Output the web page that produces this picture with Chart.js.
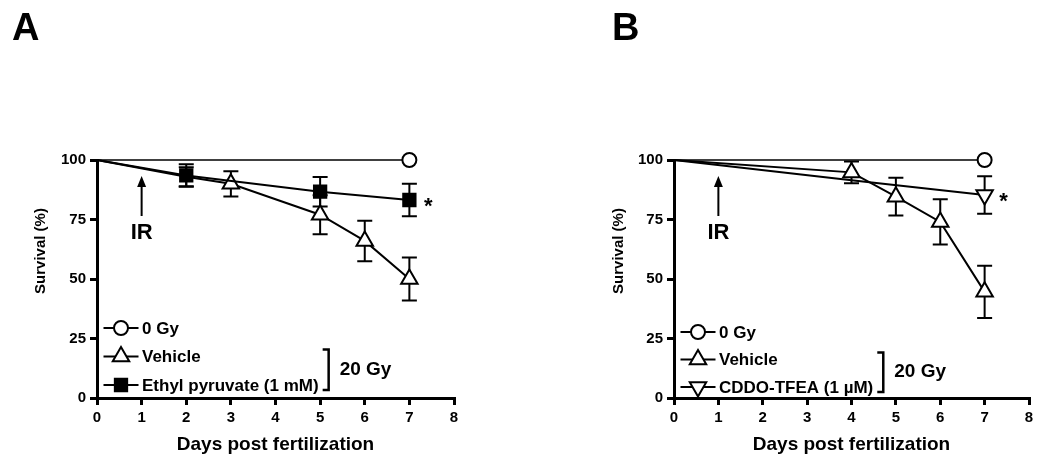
<!DOCTYPE html>
<html>
<head>
<meta charset="utf-8">
<script src="https://cdn.jsdelivr.net/npm/chart.js@4.4.1/dist/chart.umd.min.js"></script>
<style>
  html, body { margin: 0; padding: 0; background: #fff; }
  #wrap { position: relative; width: 1050px; height: 464px; }
  .panel { position: absolute; top: 0; width: 525px; height: 464px; }
  #panelA { left: 0; }
  #panelB { left: 525px; }
</style>
</head>
<body>
<div id="wrap">
  <div class="panel" id="panelA"><canvas id="chartA"></canvas></div>
  <div class="panel" id="panelB"><canvas id="chartB"></canvas></div>
</div>
<script>
// =============================
// DATA
// =============================
const xTicks = [0, 1, 2, 3, 4, 5, 6, 7, 8];
const yTicks = [0, 25, 50, 75, 100];
const irDay = 1;

// panel A
const labelsA = ["0 Gy", "Vehicle", "Ethyl pyruvate (1 mM)"];
const daysA_0gy = [0, 7];
const survA_0gy = [100, 100];
const daysA_veh = [0, 2, 3, 5, 6, 7];
const survA_veh = [100, 93, 90, 77, 66, 50];
const semA_veh  = [0, 4, 5.3, 8.2, 8.5, 9];
const daysA_ep  = [0, 2, 5, 7];
const survA_ep  = [100, 93.5, 86.7, 83.2];
const semA_ep   = [0, 4.7, 6.2, 6.8];

// panel B
const labelsB = ["0 Gy", "Vehicle", "CDDO-TFEA (1 \u00b5M)"];
const daysB_0gy  = [0, 7];
const survB_0gy  = [100, 100];
const daysB_veh  = [0, 4, 5, 6, 7];
const survB_veh  = [100, 94.8, 84.6, 74, 44.6];
const semB_veh   = [0, 4.6, 7.9, 9.5, 11];
const daysB_cddo = [0, 4, 7];
const survB_cddo = [100, 91.5, 85.3];
const semB_cddo  = [0, 0, 7.9];

const FONT = '"Liberation Sans", Arial, Helvetica, sans-serif';
Chart.defaults.font.family = FONT;
Chart.defaults.color = "#000";

// =============================
// UTIL
// =============================
const toPts = (days, vals) => days.map((d, i) => ({ x: d, y: vals[i] }));

// hidden = days where no marker is shown (start point, overlapped points)
function series(label, days, vals, err, mark, hidden = [0]) {
  return {
    label,
    data: toPts(days, vals),
    err,
    mark,
    order: mark.order,
    borderColor: "#000",
    borderWidth: mark.line,
    pointStyle: mark.style,
    pointRotation: mark.rot || 0,
    pointRadius: days.map(d => hidden.includes(d) ? 0 : mark.r),
    pointBackgroundColor: mark.fill,
    pointBorderColor: "#000",
    pointBorderWidth: 2,
    tension: 0,
    clip: false
  };
}

const MK_CIRCLE = { style: "circle", r: 7, fill: "#fff", line: 1.5, order: 2 };
const MK_TRI    = { style: "triangle", r: 9.5, fill: "#fff", line: 2, order: 1 };
const MK_SQUARE = { style: "rect", r: 8.7, fill: "#000", line: 2, order: 0 };
const MK_DOWN   = { style: "triangle", rot: 180, r: 9.5, fill: "#fff", line: 2, order: 0 };

// =============================
// PLUGINS
// =============================
const errorBars = {
  id: "errorBars",
  beforeDatasetsDraw(chart) {
    const { ctx, scales: { x, y } } = chart;
    ctx.save();
    ctx.strokeStyle = "#000";
    ctx.lineWidth = 2;
    chart.data.datasets.forEach(ds => {
      if (!ds.err) return;
      ds.data.forEach((p, i) => {
        const e = ds.err[i];
        if (!e) return;
        const px = x.getPixelForValue(p.x);
        const top = y.getPixelForValue(p.y + e);
        const bot = y.getPixelForValue(p.y - e);
        ctx.beginPath();
        ctx.moveTo(px, top); ctx.lineTo(px, bot);
        ctx.moveTo(px - 7.5, top); ctx.lineTo(px + 7.5, top);
        ctx.moveTo(px - 7.5, bot); ctx.lineTo(px + 7.5, bot);
        ctx.stroke();
      });
    });
    ctx.restore();
  }
};

const decor = {
  id: "decor",
  afterDraw(chart, args, o) {
    const { ctx, chartArea: ca, scales: { x } } = chart;
    ctx.save();
    ctx.fillStyle = "#000";
    ctx.strokeStyle = "#000";

    // panel letter
    ctx.font = `bold 38px ${FONT}`;
    ctx.textAlign = "left";
    ctx.textBaseline = "alphabetic";
    ctx.fillText(o.letter, o.letterX, 40);

    // y title
    ctx.save();
    ctx.translate(o.yTitleX, 251);
    ctx.rotate(-Math.PI / 2);
    ctx.font = `bold 15px ${FONT}`;
    ctx.textAlign = "center";
    ctx.textBaseline = "middle";
    ctx.fillText("Survival (%)", 0, 0);
    ctx.restore();

    // IR arrow
    const ax = x.getPixelForValue(irDay);
    ctx.lineWidth = 2;
    ctx.beginPath();
    ctx.moveTo(ax, ca.top + 56);
    ctx.lineTo(ax, ca.top + 24);
    ctx.stroke();
    ctx.beginPath();
    ctx.moveTo(ax, ca.top + 16);
    ctx.lineTo(ax - 4.5, ca.top + 27);
    ctx.lineTo(ax + 4.5, ca.top + 27);
    ctx.closePath();
    ctx.fill();
    ctx.font = `bold 22px ${FONT}`;
    ctx.textAlign = "center";
    ctx.fillText("IR", ax, ca.top + 79);

    // significance star next to the last point of the treated series
    const meta = chart.getDatasetMeta(o.starSet);
    const last = meta.data[meta.data.length - 1];
    ctx.font = `bold 22px ${FONT}`;
    ctx.fillText("*", last.x + 19, last.y + 13);

    // legend
    const sets = chart.data.datasets;
    const rows = sets.map((_, i) => ca.top + o.legTop + i * o.legGap);
    const lx = ca.left + 6.5;
    const tx = ca.left + 45;
    ctx.font = `bold 17px ${FONT}`;
    ctx.textAlign = "left";
    ctx.textBaseline = "middle";
    let maxW = 0;
    sets.forEach((ds, i) => {
      const yy = rows[i];
      ctx.lineWidth = 2;
      ctx.beginPath();
      ctx.moveTo(lx, yy);
      ctx.lineTo(lx + 35, yy);
      ctx.stroke();
      ctx.fillStyle = ds.mark.fill;
      Chart.helpers.drawPoint(ctx, {
        pointStyle: ds.mark.style,
        rotation: ds.mark.rot || 0,
        radius: ds.mark.r,
        borderWidth: 2
      }, lx + 17.5, yy);
      ctx.fillStyle = "#000";
      ctx.fillText(ds.label, tx, yy + 1);
      if (i > 0) maxW = Math.max(maxW, ctx.measureText(ds.label).width);
    });

    // bracket for the 20 Gy groups
    const bx = tx + maxW + 10;
    const b0 = rows[1] - 7, b1 = rows[2] + 5;
    ctx.lineWidth = 2.5;
    ctx.beginPath();
    ctx.moveTo(bx - 6, b0);
    ctx.lineTo(bx, b0);
    ctx.lineTo(bx, b1);
    ctx.lineTo(bx - 6, b1);
    ctx.stroke();
    ctx.font = `bold 19px ${FONT}`;
    ctx.fillText("20 Gy", bx + 11, (rows[1] + rows[2]) / 2 - 1);

    ctx.restore();
  }
};

// =============================
// RENDER
// =============================
function makeChart(id, datasets, o) {
  const tickFont = { size: 15, weight: "bold" };
  const grid = { drawOnChartArea: false, drawTicks: true, tickLength: 7, color: "#000", lineWidth: 3 };
  const border = { color: "#000", width: 3 };

  return new Chart(document.getElementById(id), {
    type: "line",
    data: { datasets },
    plugins: [errorBars, decor],
    options: {
      responsive: true,
      maintainAspectRatio: false,
      animation: false,
      events: [],
      layout: { padding: { left: 0, top: 160, right: o.padRight, bottom: 0 } },
      plugins: {
        legend: { display: false },
        tooltip: { enabled: false },
        decor: o
      },
      scales: {
        x: {
          type: "linear",
          min: 0,
          max: 8,
          afterBuildTicks: s => { s.ticks = xTicks.map(v => ({ value: v })); },
          afterFit: s => { s.height = 66; },
          ticks: { font: tickFont, color: "#000", padding: 4 },
          grid,
          border,
          title: {
            display: true,
            text: "Days post fertilization",
            color: "#000",
            font: { size: 19, weight: "bold" },
            padding: { top: 0, bottom: 8 }
          }
        },
        y: {
          min: 0,
          max: 100,
          afterBuildTicks: s => { s.ticks = yTicks.map(v => ({ value: v })); },
          afterFit: s => { s.width = o.yWidth; },
          ticks: { font: tickFont, color: "#000", padding: 4 },
          grid,
          border
        }
      }
    }
  });
}

makeChart("chartA", [
  series(labelsA[0], daysA_0gy, survA_0gy, null, MK_CIRCLE),
  series(labelsA[1], daysA_veh, survA_veh, semA_veh, MK_TRI, [0, 2]),
  series(labelsA[2], daysA_ep, survA_ep, semA_ep, MK_SQUARE)
], { letter: "A", letterX: 12, yTitleX: 41, yWidth: 97, padRight: 71, starSet: 2, legTop: 168, legGap: 28.5 });

makeChart("chartB", [
  series(labelsB[0], daysB_0gy, survB_0gy, null, MK_CIRCLE),
  series(labelsB[1], daysB_veh, survB_veh, semB_veh, MK_TRI),
  series(labelsB[2], daysB_cddo, survB_cddo, semB_cddo, MK_DOWN, [0, 4])
], { letter: "B", letterX: 87, yTitleX: 94, yWidth: 149, padRight: 21, starSet: 2, legTop: 172, legGap: 27.5 });
</script>
</body>
</html>
